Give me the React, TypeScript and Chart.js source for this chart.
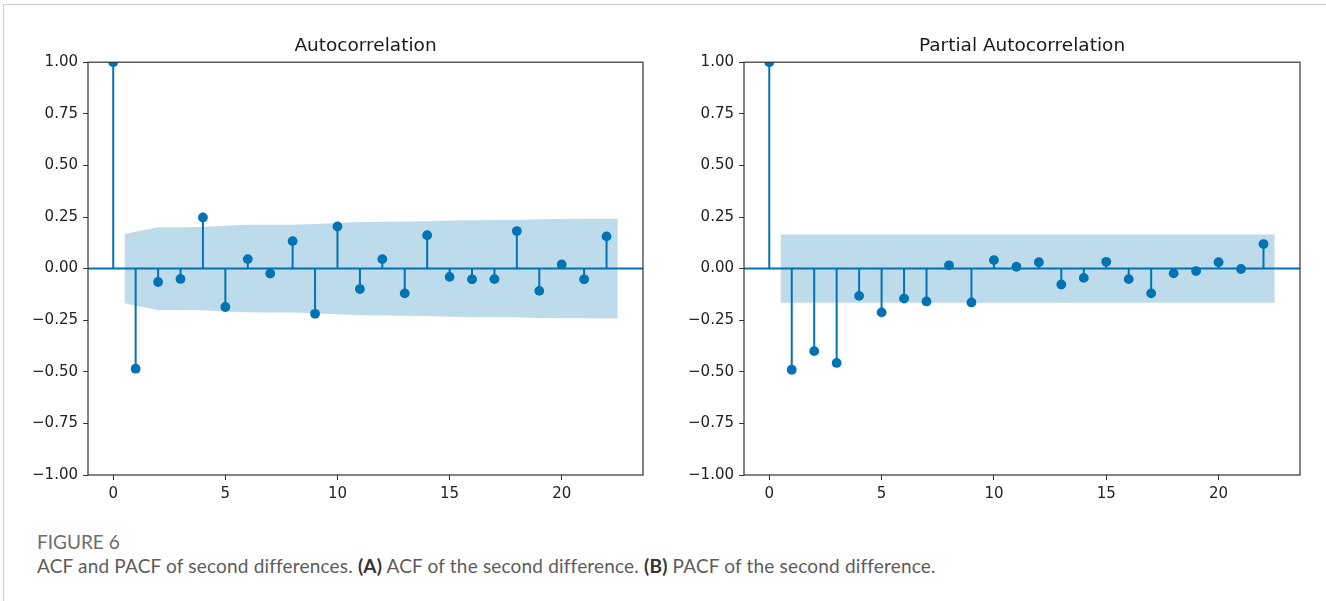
import React, { useEffect, useRef } from "react";
import { Chart, registerables } from "chart.js";

Chart.register(...registerables);

// ---- data ----
const lags = [0, 1, 2, 3, 4, 5, 6, 7, 8, 9, 10, 11, 12, 13, 14, 15, 16, 17, 18, 19, 20, 21, 22];

const acfValues = [
  1, -0.485, -0.065, -0.05, 0.248, -0.186, 0.046, -0.024, 0.133, -0.219, 0.204, -0.099,
  0.046, -0.12, 0.162, -0.04, -0.052, -0.051, 0.182, -0.108, 0.02, -0.052, 0.156,
];

// half-width of the 95% confidence band for lags 1..22
const acfConf = [
  0.168, 0.2, 0.2, 0.202, 0.208, 0.212, 0.213, 0.213, 0.216, 0.221, 0.226, 0.227, 0.228,
  0.23, 0.233, 0.234, 0.235, 0.236, 0.239, 0.24, 0.241, 0.242,
];

const pacfValues = [
  1, -0.49, -0.4, -0.457, -0.132, -0.212, -0.145, -0.159, 0.016, -0.164, 0.041, 0.009,
  0.031, -0.077, -0.045, 0.033, -0.051, -0.12, -0.023, -0.012, 0.031, -0.002, 0.119,
];

const pacfConf = [
  0.165, 0.165, 0.165, 0.165, 0.165, 0.165, 0.165, 0.165, 0.165, 0.165, 0.165, 0.165, 0.165,
  0.165, 0.165, 0.165, 0.165, 0.165, 0.165, 0.165, 0.165, 0.165,
];

const yTicks = [-1, -0.75, -0.5, -0.25, 0, 0.25, 0.5, 0.75, 1];
const xTicks = [0, 5, 10, 15, 20];

const X_MIN = -1.125;
const X_MAX = 23.625;

const STEM = "#0173B2";
const BAND = "rgba(1, 115, 178, 0.26)";
const AXIS = "#333333";
const FONT = "'DejaVu Sans', sans-serif";

function stemPoints(values: number[]) {
  const pts: { x: number; y: number | null }[] = [];
  values.forEach((v, i) => {
    pts.push({ x: lags[i], y: 0 }, { x: lags[i], y: v }, { x: lags[i], y: null });
  });
  return pts;
}

function bandPoints(conf: number[], sign: number) {
  const bandLags = lags.slice(1);
  return conf.map((c, i) => {
    let x = bandLags[i];
    if (i === 0) x -= 0.5;
    if (i === conf.length - 1) x += 0.5;
    return { x, y: sign * c };
  });
}

const boxPlugin = {
  id: "axesBox",
  afterDatasetsDraw(chart: any) {
    const { ctx, chartArea } = chart;
    const { left, top, right, bottom } = chartArea;
    ctx.save();
    ctx.strokeStyle = AXIS;
    ctx.lineWidth = 1.2;
    ctx.strokeRect(left, top, right - left, bottom - top);
    ctx.restore();
  },
};

function fmt(v: number) {
  const s = Math.abs(v).toFixed(2);
  return v < 0 ? "\u2212" + s : s;
}

type PanelProps = { left: number; width: number; title: string; values: number[]; conf: number[] };

function Panel({ left, width, title, values, conf }: PanelProps) {
  const ref = useRef<HTMLCanvasElement | null>(null);
  const height = 470;
  useEffect(() => {
    if (!ref.current) return;
    const chart = new Chart(ref.current, {
      type: "scatter",
      data: {
        datasets: [
          {
            type: "scatter",
            data: values.map((v, i) => ({ x: lags[i], y: v })),
            pointRadius: 4.9,
            pointHoverRadius: 4.9,
            pointBackgroundColor: STEM,
            pointBorderWidth: 0,
            borderColor: STEM,
            order: 0,
          },
          {
            type: "line",
            data: stemPoints(values),
            borderColor: STEM,
            borderWidth: 2,
            pointRadius: 0,
            spanGaps: false,
            fill: false,
            order: 1,
          },
          {
            type: "line",
            data: [
              { x: X_MIN, y: 0 },
              { x: X_MAX, y: 0 },
            ],
            borderColor: STEM,
            borderWidth: 2,
            pointRadius: 0,
            fill: false,
            order: 2,
          },
          {
            type: "line",
            data: bandPoints(conf, 1),
            borderWidth: 0,
            borderColor: "rgba(0,0,0,0)",
            backgroundColor: BAND,
            pointRadius: 0,
            fill: "+1",
            order: 3,
          },
          {
            type: "line",
            data: bandPoints(conf, -1),
            borderWidth: 0,
            borderColor: "rgba(0,0,0,0)",
            pointRadius: 0,
            fill: false,
            order: 4,
          },
        ],
      } as any,
      options: {
        animation: false,
        responsive: false,
        maintainAspectRatio: false,
        events: [],
        layout: { padding: { left: 0, right: 17, top: 0, bottom: 0 } },
        plugins: {
          legend: { display: false },
          tooltip: { enabled: false },
          title: {
            display: true,
            text: title,
            fullSize: false,
            color: "#1a1a1a",
            font: { family: FONT, size: 18.5, weight: "normal" },
            padding: { top: 5, bottom: 5 },
          },
        },
        scales: {
          x: {
            type: "linear",
            min: X_MIN,
            max: X_MAX,
            afterBuildTicks: (s: any) => {
              s.ticks = xTicks.map((v) => ({ value: v }));
            },
            afterFit: (s: any) => {
              s.height = 25;
            },
            ticks: {
              color: "#222",
              font: { family: FONT, size: 15 },
              padding: 5,
              maxRotation: 0,
              callback: (v: any) => String(v),
            },
            grid: { drawOnChartArea: false, drawTicks: true, tickLength: 5, color: AXIS, lineWidth: 1 },
            border: { display: false },
          },
          y: {
            type: "linear",
            min: -1,
            max: 1,
            afterBuildTicks: (s: any) => {
              s.ticks = yTicks.map((v) => ({ value: v }));
            },
            afterFit: (s: any) => {
              s.width = 58;
            },
            ticks: {
              color: "#222",
              font: { family: FONT, size: 15 },
              padding: 5,
              callback: (v: any) => fmt(Number(v)),
            },
            grid: { drawOnChartArea: false, drawTicks: true, tickLength: 5, color: AXIS, lineWidth: 1 },
            border: { display: false },
          },
        },
      } as any,
      plugins: [boxPlugin],
    });
    return () => chart.destroy();
  }, []);
  return (
    <canvas
      ref={ref}
      width={width}
      height={height}
      style={{ position: "absolute", left, top: 30, width, height }}
    />
  );
}

export default function App() {
  return (
    <div style={{ position: "absolute", left: 0, top: 0, width: 1326, height: 601, overflow: "hidden", background: "#fff" }}>
      <div
        style={{
          position: "absolute",
          left: 3,
          top: 4,
          width: 1323,
          height: 597,
          borderTop: "1px solid #cfcfcf",
          borderLeft: "1px solid #cfcfcf",
          boxSizing: "border-box",
        }}
      />
      <Panel left={30} width={630} title="Autocorrelation" values={acfValues} conf={acfConf} />
      <Panel left={686} width={631} title="Partial Autocorrelation" values={pacfValues} conf={pacfConf} />
      <div
        style={{
          position: "absolute",
          left: 37,
          top: 530,
          fontFamily: "Lato, 'Open Sans', sans-serif",
          fontSize: 19,
          color: "#6e6e6e",
          lineHeight: "24px",
          whiteSpace: "nowrap",
        }}
      >
        <div>FIGURE 6</div>
        <div style={{ color: "#5c5c5c", letterSpacing: "0.18px" }}>
          ACF and PACF of second differences. <b style={{ color: "#333" }}>(A)</b> ACF of the second difference.{" "}
          <b style={{ color: "#333" }}>(B)</b> PACF of the second difference.
        </div>
      </div>
    </div>
  );
}
